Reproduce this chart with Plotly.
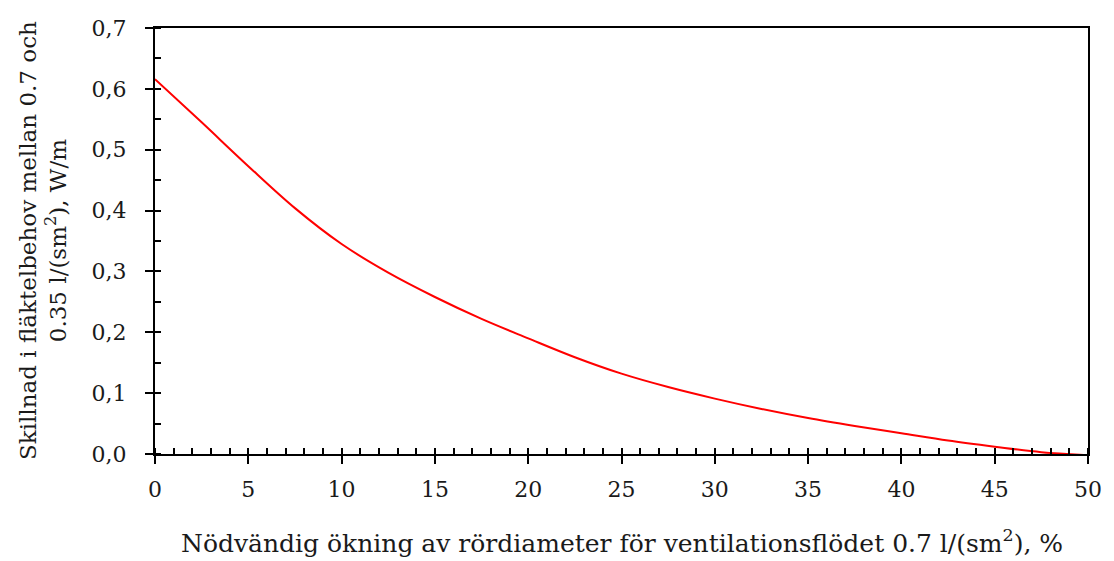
import plotly.graph_objects as go

x_vals = [0, 2.5, 5, 7.5, 10, 12.5, 15, 17.5, 20, 22.5, 25, 27.5, 30, 32.5, 35, 37.5, 40, 42.5, 45, 47.5, 50]
y_vals = [0.616, 0.545, 0.473, 0.404, 0.345, 0.298, 0.258, 0.222, 0.190, 0.159, 0.132, 0.110, 0.091,
          0.074, 0.059, 0.046, 0.034, 0.022, 0.012, 0.003, -0.002]

x_title = "Nödvändig ökning av rördiameter för ventilationsflödet 0.7 l/(sm<sup>2</sup>), %"
y_title = "Skillnad i fläktelbehov mellan 0.7 och<br>0.35 l/(sm<sup>2</sup>), W/m"

FONT = "DejaVu Serif"
TICK_FS = 22
XTITLE_FS = 25
YTITLE_FS = 23
TXT = "#1a1a1a"

fig = go.Figure()
fig.add_trace(go.Scatter(x=x_vals, y=y_vals, mode="lines", line=dict(color="#ff0000", width=2, shape="spline"),
                         showlegend=False, hoverinfo="skip"))

fig.update_layout(
    width=1114, height=561,
    margin=dict(l=155, r=16, t=28, b=107),
    paper_bgcolor="white", plot_bgcolor="white",
    separators=", ",
    font=dict(family=FONT, size=TICK_FS, color=TXT),
    annotations=[
        dict(text=x_title, xref="paper", yref="paper", x=0.5, y=-0.205, xanchor="center", yanchor="middle",
             showarrow=False, font=dict(family=FONT, size=XTITLE_FS, color=TXT)),
        dict(text=y_title, xref="paper", yref="paper", x=-0.12, y=0.5, xanchor="center", yanchor="middle",
             textangle=-90, showarrow=False, font=dict(family=FONT, size=YTITLE_FS, color=TXT)),
    ],
)
fig.update_xaxes(
    range=[0, 50], tickmode="linear", tick0=0, dtick=5,
    showline=True, linecolor="black", linewidth=2, mirror=True,
    ticks="outside", ticklen=8, tickwidth=2, tickcolor="black",
    ticklabelstandoff=7,
    minor=dict(dtick=1, ticks="inside", ticklen=6, tickwidth=1.5, tickcolor="black"),
    showgrid=False, zeroline=False,
)
fig.update_yaxes(
    range=[0, 0.7], tickmode="linear", tick0=0, dtick=0.1, tickformat=".1f",
    showline=True, linecolor="black", linewidth=2, mirror=True,
    ticks="outside", ticklen=8, tickwidth=2, tickcolor="black",
    ticklabelstandoff=14,
    minor=dict(dtick=0.05, ticks="inside", ticklen=6, tickwidth=1.5, tickcolor="black"),
    showgrid=False, zeroline=False,
)

fig.write_html("out.html", config={"displayModeBar": False},
               post_script="document.body.style.margin='0';document.body.style.padding='0';")
